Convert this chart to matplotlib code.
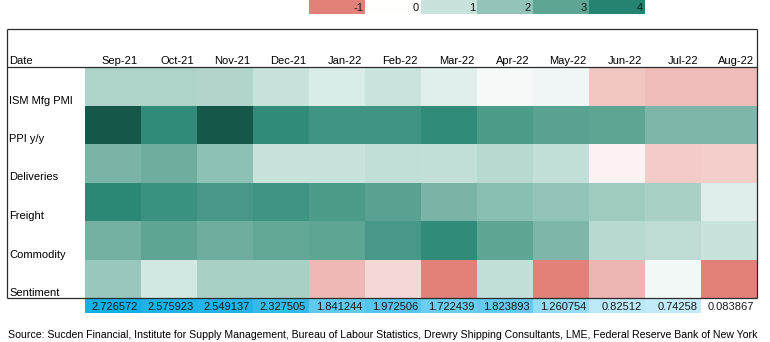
import numpy as np
import matplotlib as mpl
import matplotlib.pyplot as plt
from matplotlib.colors import LinearSegmentedColormap, Normalize

mpl.use('Agg')

plt.rcParams['font.family'] = ['Liberation Sans', 'DejaVu Sans']

# columns and rows of the table
months = ["Sep-21", "Oct-21", "Nov-21", "Dec-21", "Jan-22", "Feb-22",
          "Mar-22", "Apr-22", "May-22", "Jun-22", "Jul-22", "Aug-22"]
row_names = ["ISM Mfg PMI", "PPI y/y", "Deliveries", "Freight", "Commodity", "Sentiment"]

# z-scores per indicator
ism_pmi    = [1.5, 1.5, 1.45, 1.0, 0.67, 0.95, 0.55, 0.18, 0.31, -0.45, -0.52, -0.52]
ppi_yy     = [5.0, 3.8, 5.0, 3.8, 3.5, 3.5, 3.8, 3.3, 3.1, 3.0, 2.4, 2.4]
deliveries = [2.5, 2.7, 2.1, 1.0, 1.0, 1.15, 1.1, 1.3, 1.1, -0.1, -0.4, -0.38]
freight    = [3.9, 3.6, 3.4, 3.5, 3.3, 3.1, 2.5, 2.2, 2.0, 1.8, 1.6, 0.58]
commodity  = [2.6, 3.0, 2.7, 2.9, 3.0, 3.4, 3.8, 3.0, 2.4, 1.3, 1.2, 1.0]
sentiment  = [1.9, 0.84, 1.6, 1.6, -0.55, -0.3, -1.0, 1.1, -1.0, -0.56, 0.24, -1.0]

# composite row under the table
composite = [2.726572, 2.575923, 2.549137, 2.327505, 1.841244, 1.972506,
             1.722439, 1.823893, 1.260754, 0.82512, 0.74258, 0.083867]

legend_levels = [-1, 0, 1, 2, 3, 4]

source = ("Source: Sucden Financial, Institute for Supply Management, Bureau of Labour Statistics, "
          "Drewry Shipping Consultants, LME, Federal Reserve Bank of New York")

# layout in pixels
W, H = 770, 342
LEFT, RIGHT = 7, 757
TOP_LINE, HEAD_LINE, BODY_BOTTOM = 29, 67, 298
CELL_X0, CELL_W = 85, 56
NUM_BOTTOM = 313
FS = 8

VMIN, VMAX = -1, 5
nodes = [(-1, "#E1817A"), (0, "#FFFFFF"), (1, "#C8E2DC"), (2, "#94C4B9"),
         (3, "#5EA594"), (4, "#258571"), (5, "#17574A")]
heat_cmap = LinearSegmentedColormap.from_list(
    "heat", [((v - VMIN) / (VMAX - VMIN), c) for v, c in nodes])
heat_norm = Normalize(VMIN, VMAX)

blue_cmap = LinearSegmentedColormap.from_list("blue", ["#FFFFFF", "#10AFE6"])
blue_norm = Normalize(min(composite), max(composite))


def fig_rect(x0, y0, x1, y1):
    return [x0 / W, 1 - y1 / H, (x1 - x0) / W, (y1 - y0) / H]


fig = plt.figure(figsize=(W / 100, H / 100), dpi=100)

values = np.array([ism_pmi, ppi_yy, deliveries, freight, commodity, sentiment])
ncol = len(months)
nrow = len(row_names)
row_h = (BODY_BOTTOM - HEAD_LINE) / nrow

# heatmap body
hx = fig.add_axes(fig_rect(CELL_X0, HEAD_LINE, CELL_X0 + CELL_W * ncol, BODY_BOTTOM))
hx.pcolormesh(values, cmap=heat_cmap, norm=heat_norm, antialiased=False, edgecolors='none')
hx.set_xlim(0, ncol)
hx.set_ylim(nrow, 0)
hx.axis('off')

# composite row
nx = fig.add_axes(fig_rect(CELL_X0, BODY_BOTTOM, CELL_X0 + CELL_W * ncol, NUM_BOTTOM))
nx.pcolormesh(np.array([composite]), cmap=blue_cmap, norm=blue_norm, antialiased=False)
nx.set_xlim(0, ncol)
nx.set_ylim(1, 0)
nx.axis('off')

# legend strip
lx = fig.add_axes(fig_rect(309, 0, 309 + CELL_W * len(legend_levels), 14))
lx.pcolormesh(np.array([legend_levels]), cmap=heat_cmap, norm=heat_norm, antialiased=False)
lx.set_xlim(0, len(legend_levels))
lx.set_ylim(1, 0)
lx.axis('off')

# overlay axes in pixel coordinates for text and rules, drawn on top
base = fig.add_axes([0, 0, 1, 1], zorder=10)
base.set_xlim(0, W)
base.set_ylim(H, 0)
base.axis('off')

for j, v in enumerate(composite):
    base.text(CELL_X0 + CELL_W * (j + 1) - 3, NUM_BOTTOM - 3.5, str(v),
              ha='right', va='baseline', fontsize=FS, color='#1a1a1a')

for i, lv in enumerate(legend_levels):
    base.text(309 + CELL_W * (i + 1) - 2, 11, str(lv), ha='right', va='baseline',
              fontsize=FS, color='#1a1a1a')

# headers
base.text(LEFT + 2, HEAD_LINE - 2.5, "Date", ha='left', va='baseline', fontsize=FS)
for j, m in enumerate(months):
    base.text(CELL_X0 + CELL_W * (j + 1) - 3, HEAD_LINE - 2.5, m,
              ha='right', va='baseline', fontsize=FS)

for i, name in enumerate(row_names):
    base.text(LEFT + 2, HEAD_LINE + row_h * (i + 1) - 2, name,
              ha='left', va='baseline', fontsize=FS)

# table rules
line_kw = dict(color='#2b2b2b', linewidth=0.9, solid_capstyle='butt')
base.plot([LEFT, RIGHT], [TOP_LINE, TOP_LINE], **line_kw)
base.plot([LEFT, RIGHT], [HEAD_LINE, HEAD_LINE], **line_kw)
base.plot([LEFT, RIGHT], [BODY_BOTTOM, BODY_BOTTOM], **line_kw)
base.plot([LEFT, LEFT], [TOP_LINE, BODY_BOTTOM], **line_kw)
base.plot([RIGHT, RIGHT], [TOP_LINE, BODY_BOTTOM], **line_kw)

base.text(8, 338, source, ha='left', va='baseline', fontsize=7.55)

fig.savefig("out.png", dpi=100)
